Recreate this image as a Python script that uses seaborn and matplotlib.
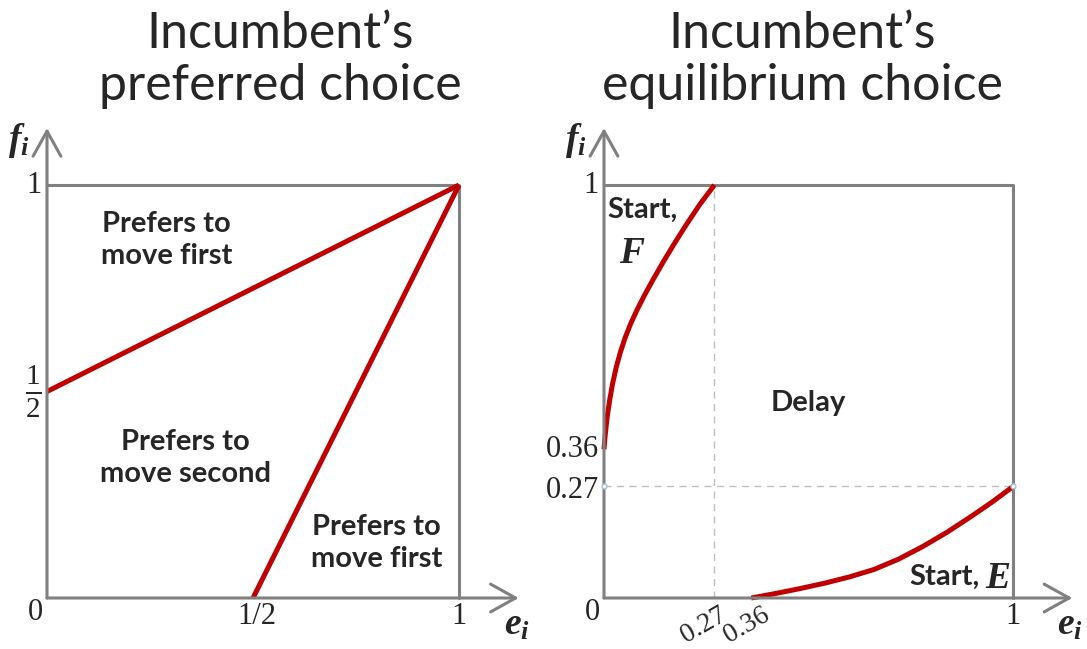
import matplotlib
matplotlib.use("Agg")
import matplotlib.pyplot as plt
import numpy as np
import pandas as pd
import seaborn as sns

# left panel: the two indifference lines
upper_e = [0.0, 1.0]
upper_f = [0.5, 1.0]
lower_e = [0.5, 1.0]
lower_f = [0.0, 1.0]

# right panel: equilibrium boundaries
start_f_e = [0.0, 0.003, 0.008, 0.014, 0.021, 0.03, 0.04, 0.052, 0.066,
             0.082, 0.1, 0.12, 0.145, 0.17, 0.2, 0.235, 0.27]
start_f_f = [0.36, 0.395, 0.44, 0.48, 0.519, 0.559, 0.595, 0.631, 0.666,
             0.70, 0.735, 0.771, 0.814, 0.855, 0.902, 0.954, 1.0]
start_e_e = [0.36, 0.42, 0.48, 0.54, 0.6, 0.66, 0.72, 0.78, 0.84, 0.9, 0.95, 1.0]
start_e_f = [0.0, 0.011, 0.023, 0.036, 0.051, 0.069, 0.094, 0.125, 0.16,
             0.199, 0.233, 0.27]

titles = ["Incumbent\u2019s\npreferred choice", "Incumbent\u2019s\nequilibrium choice"]

sns.set_theme(style="white")
plt.rcParams["font.family"] = ["Lato", "DejaVu Sans"]
plt.rcParams["mathtext.fontset"] = "custom"
plt.rcParams["mathtext.rm"] = "Liberation Serif"
plt.rcParams["mathtext.it"] = "Liberation Serif:italic:bold"
plt.rcParams["mathtext.bf"] = "Liberation Serif:bold"

RED = "#C00000"
GRAY = "#808080"
SERIF = "Liberation Serif"
TICK_FS = 22
LAB_FS = 21
VAR_FS = 27

fig = plt.figure(figsize=(10.87, 6.49), dpi=100)
ax1 = fig.add_axes([47 / 1087, 51 / 649, 412 / 1087, 413 / 649])
ax2 = fig.add_axes([604 / 1087, 51 / 649, 409 / 1087, 413 / 649])


def frame(ax):
    ax.set_xlim(0, 1)
    ax.set_ylim(0, 1)
    ax.axis("off")
    ax.plot([0, 1, 1], [1, 1, 0], color=GRAY, lw=2.2, clip_on=False, zorder=1)
    arrow = dict(arrowstyle="->,head_length=0.9,head_width=0.5", color=GRAY,
                 lw=2.2, shrinkA=0, shrinkB=0, mutation_scale=20)
    ax.annotate("", xy=(1.145, 0), xytext=(0, 0), arrowprops=arrow,
                annotation_clip=False)
    ax.annotate("", xy=(0, 1.138), xytext=(0, 0), arrowprops=arrow,
                annotation_clip=False)
    ax.text(-0.068, 1.108, "$f_i$", fontsize=VAR_FS, ha="center", va="center")
    ax.text(1.14, -0.063, "$e_i$", fontsize=VAR_FS, ha="center", va="center")
    ax.text(-0.01, -0.035, "0", family=SERIF, fontsize=TICK_FS, ha="right", va="center")
    ax.text(-0.012, 1.0, "1", family=SERIF, fontsize=TICK_FS, ha="right", va="center")
    ax.text(1.0, -0.045, "1", family=SERIF, fontsize=TICK_FS, ha="center", va="center")


def curve(ax, x, y):
    sns.lineplot(x=x, y=y, ax=ax, color=RED, lw=3.6, sort=False, clip_on=False,
                 solid_joinstyle="round", solid_capstyle="butt")


# ---- left panel
frame(ax1)
curve(ax1, upper_e, upper_f)
curve(ax1, lower_e, lower_f)
ax1.text(-0.012, 0.5, r"$\frac{1}{2}$", fontsize=30, ha="right", va="center")
ax1.text(0.51, -0.045, "1/2", family=SERIF, fontsize=TICK_FS, ha="center", va="center")
ax1.text(0.29, 0.867, "Prefers to\nmove first", fontsize=LAB_FS, weight="bold",
         ha="center", va="center", linespacing=1.25)
ax1.text(0.337, 0.339, "Prefers to\nmove second", fontsize=LAB_FS, weight="bold",
         ha="center", va="center", linespacing=1.25)
ax1.text(0.80, 0.133, "Prefers to\nmove first", fontsize=LAB_FS, weight="bold",
         ha="center", va="center", linespacing=1.25)

# ---- right panel
frame(ax2)
ax2.plot([0.27, 0.27], [0, 1], color="#BFBFBF", lw=1, ls=(0, (5, 4)), zorder=0)
ax2.plot([0, 1], [0.27, 0.27], color="#BFBFBF", lw=1, ls=(0, (5, 4)), zorder=0)
curve(ax2, start_f_e, start_f_f)
curve(ax2, start_e_e, start_e_f)
ax2.plot([0, 1], [0.27, 0.27], ls="none", marker="o", ms=3.5, mfc="white",
         mec="#9CC3D5", mew=1, clip_on=False, zorder=5)
ax2.text(-0.012, 0.36, "0.36", family=SERIF, fontsize=TICK_FS, ha="right", va="center")
ax2.text(-0.012, 0.26, "0.27", family=SERIF, fontsize=TICK_FS, ha="right", va="center")
ax2.text(0.28, -0.01, "0.27", family=SERIF, fontsize=20, ha="right", va="top",
         rotation=30, rotation_mode="anchor")
ax2.text(0.385, -0.01, "0.36", family=SERIF, fontsize=20, ha="right", va="top",
         rotation=30, rotation_mode="anchor")
ax2.text(0.008, 0.94, "Start,", fontsize=LAB_FS, weight="bold", ha="left", va="center")
ax2.text(0.068, 0.838, "$F$", fontsize=VAR_FS, ha="center", va="center")
ax2.text(0.918, 0.05, "Start,", fontsize=LAB_FS, weight="bold", ha="right", va="center")
ax2.text(0.932, 0.05, "$E$", fontsize=VAR_FS, ha="left", va="center")
ax2.text(0.499, 0.472, "Delay", fontsize=LAB_FS, weight="bold", ha="center", va="center")

# ---- titles
fig.text(280 / 1087, 1 - 60 / 649, titles[0], fontsize=36, ha="center", va="center",
         linespacing=1.15)
fig.text(802 / 1087, 1 - 60 / 649, titles[1], fontsize=36, ha="center", va="center",
         linespacing=1.15)

fig.savefig("out.png", dpi=100)
